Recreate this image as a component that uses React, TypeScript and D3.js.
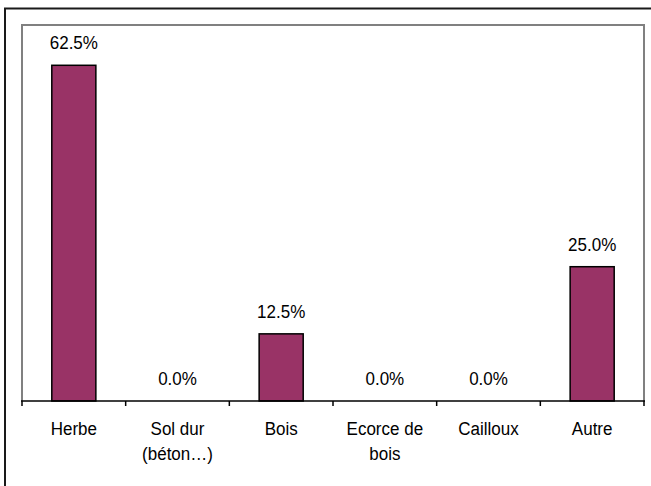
import React from "react";
import * as d3 from "d3";

const categories: string[][] = [
  ["Herbe"],
  ["Sol dur", "(béton…)"],
  ["Bois"],
  ["Ecorce de", "bois"],
  ["Cailloux"],
  ["Autre"],
];
const values: number[] = [62.5, 0, 12.5, 0, 0, 25];
const yMax = 70;

const W = 651;
const H = 486;
const plot = { left: 22, right: 644, top: 25, bottom: 401 };
const barColor = "#993366";

export default function App() {
  const idx = categories.map((_, i) => i);
  const x = d3
    .scaleBand<number>()
    .domain(idx)
    .range([plot.left, plot.right])
    .paddingInner(0.575)
    .paddingOuter(0.2875);
  const band = d3.scaleBand<number>().domain(idx).range([plot.left, plot.right]);
  const y = d3.scaleLinear().domain([0, yMax]).range([plot.bottom, plot.top]);
  const fmt = d3.format(".1f");
  const textStyle: React.CSSProperties = {
    fontFamily: "'Liberation Sans', Arial, sans-serif",
    fontSize: 17,
    fill: "#000",
  };
  const ticks = [...idx.map((i) => band(i) as number), plot.right];

  return (
    <svg
      width={W}
      height={H}
      style={{ position: "absolute", left: 0, top: 0, background: "#fff" }}
    >
      <rect x={0} y={0} width={W} height={H} fill="#fff" />
      <rect x={5} y={8.5} width={700} height={600} fill="none" stroke="#1a1a1a" strokeWidth={2} />
      <path
        d={`M${plot.left},${plot.bottom} V${plot.top} H${plot.right} V${plot.bottom}`}
        fill="none"
        stroke="#808080"
        strokeWidth={2}
      />
      {values.map((v, i) =>
        v > 0 ? (
          <rect
            key={i}
            x={x(i)}
            y={y(v)}
            width={x.bandwidth()}
            height={y(0) - y(v)}
            fill={barColor}
            stroke="#000"
            strokeWidth={1.5}
          />
        ) : null
      )}
      <line x1={plot.left - 1} x2={plot.right + 1} y1={plot.bottom} y2={plot.bottom} stroke="#000" strokeWidth={1.5} />
      {ticks.map((t, i) => (
        <line key={i} x1={t} x2={t} y1={plot.bottom} y2={plot.bottom + 5} stroke="#000" strokeWidth={1.5} />
      ))}
      {values.map((v, i) => (
        <text
          key={i}
          transform={`translate(${(x(i) as number) + x.bandwidth() / 2},${y(v) - 16}) scale(1,1.07)`}
          textAnchor="middle"
          style={textStyle}
        >
          {fmt(v) + "%"}
        </text>
      ))}
      {categories.map((lines, i) =>
        lines.map((ln, j) => (
          <text
            key={i + "-" + j}
            transform={`translate(${(band(i) as number) + band.bandwidth() / 2},${435 + j * 25}) scale(1,1.07)`}
            textAnchor="middle"
            style={textStyle}
          >
            {ln}
          </text>
        ))
      )}
    </svg>
  );
}
